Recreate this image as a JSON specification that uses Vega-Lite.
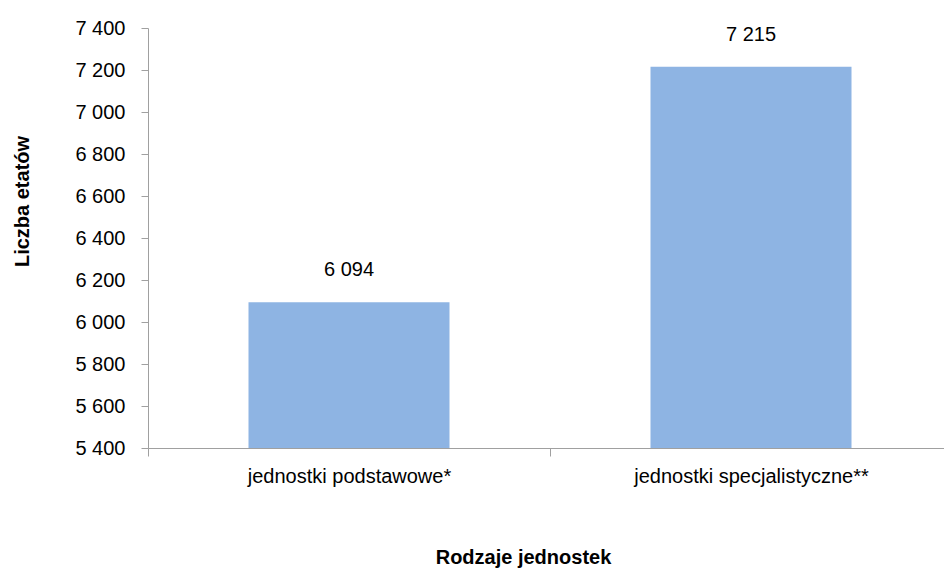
{
  "$schema": "https://vega.github.io/schema/vega-lite/v6.json",
  "width": 804,
  "height": 420,
  "autosize": {"type": "none"},
  "padding": {"left": 148, "top": 28, "right": 0, "bottom": 126},
  "background": "white",
  "config": {
    "view": {"stroke": null},
    "font": "Liberation Sans",
    "locale": {"number": {"decimal": ",", "thousands": " ", "grouping": [3], "currency": ["", " zł"]}}
  },
  "data": {
    "values": [
      {"rodzaj": "jednostki podstawowe*", "etaty": 6094},
      {"rodzaj": "jednostki specjalistyczne**", "etaty": 7215}
    ]
  },
  "encoding": {
    "x": {
      "field": "rodzaj",
      "type": "nominal",
      "sort": null,
      "scale": {"paddingInner": 0, "paddingOuter": 0},
      "axis": {
        "title": "Rodzaje jednostek",
        "labelAngle": 0,
        "labelLimit": 0,
        "tickBand": "extent",
        "domainColor": "#a0a0a0",
        "tickColor": "#a0a0a0",
        "tickSize": 8,
        "labelPadding": 10,
        "labelFont": "Liberation Sans",
        "labelFontSize": 20,
        "labelColor": "#000000",
        "titleFont": "Liberation Sans",
        "titleFontSize": 20,
        "titleFontWeight": "bold",
        "titleColor": "#000000",
        "titleX": 375,
        "titleY": 109,
        "titleBaseline": "middle",
        "titleAnchor": null
      }
    },
    "y": {
      "field": "etaty",
      "type": "quantitative",
      "scale": {"domain": [5400, 7400], "zero": false, "nice": false},
      "axis": {
        "title": "Liczba etatów",
        "values": [5400, 5600, 5800, 6000, 6200, 6400, 6600, 6800, 7000, 7200, 7400],
        "format": ",d",
        "grid": false,
        "domainColor": "#a0a0a0",
        "tickColor": "#a0a0a0",
        "tickSize": 7,
        "labelPadding": 16,
        "labelFont": "Liberation Sans",
        "labelFontSize": 20,
        "labelColor": "#000000",
        "titleFont": "Liberation Sans",
        "titleFontSize": 20,
        "titleFontWeight": "bold",
        "titleColor": "#000000",
        "titleX": -126,
        "titleY": 173,
        "titleAngle": -90,
        "titleAlign": "center",
        "titleBaseline": "middle"
      }
    }
  },
  "layer": [
    {"mark": {"type": "bar", "color": "#8EB4E3", "clip": true, "width": {"band": 0.5}}},
    {
      "mark": {"type": "text", "baseline": "middle", "dy": -32, "font": "Liberation Sans", "fontSize": 20, "color": "#000000"},
      "encoding": {"text": {"field": "etaty", "type": "quantitative", "format": ",d"}}
    }
  ]
}
